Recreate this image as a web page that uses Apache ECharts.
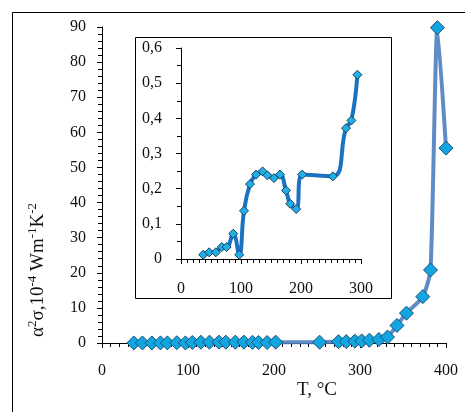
<!DOCTYPE html>
<html>
<head>
    <meta charset="utf-8">
    <title>ECharts</title>
    <script src="https://cdn.jsdelivr.net/npm/echarts@6/dist/echarts.min.js"></script>
    <style>
        body { margin: 0; background: #fff; }
    </style>
</head>
<body>
    <div id="main" style="width: 465px; height:412px;"></div>

    <script type="text/javascript">
        // temperatures (°C) and power factor values (10^-4 W m^-1 K^-2)
        var temps = [37, 47, 58, 68, 76, 87, 97, 105, 115, 125, 136, 144, 155, 165, 175, 182, 192, 202,
                     253, 275, 284, 294, 302, 311, 322, 332, 343, 354, 373, 382, 390, 400];
        // low temperature part (shown in the inset)
        var lowVals = [0.012, 0.019, 0.019, 0.034, 0.034, 0.072, 0.012, 0.137, 0.213, 0.24, 0.249,
                       0.238, 0.23, 0.24, 0.195, 0.157, 0.142, 0.24, 0.235, 0.372, 0.394, 0.524];
        // high temperature part (only in the main chart)
        var highVals = [0.6, 0.8, 1.0, 1.7, 5.0, 8.5, 13.2, 20.8, 89.8, 55.5];

        var mainX = [0, 100, 200, 300, 400];
        var mainY = [0, 10, 20, 30, 40, 50, 60, 70, 80, 90];
        var insetX = [0, 100, 200, 300];
        var insetY = [0, 0.1, 0.2, 0.3, 0.4, 0.5, 0.6];

        var allVals = lowVals.concat(highVals);
        var mainData = temps.map(function (t, i) { return [t, allVals[i]]; });
        var insetData = lowVals.map(function (v, i) { return [temps[i], v]; });

        var serif = 'Liberation Serif';
        var myChart = echarts.init(document.getElementById('main'));

        function majorAxis(grid, min, max, interval, label, extra) {
            var a = {
                gridIndex: grid, type: 'value', min: min, max: max, interval: interval,
                axisLine: { show: true, lineStyle: { color: '#000', width: 1 } },
                axisTick: { show: true, length: 5, lineStyle: { color: '#000' } },
                axisLabel: label,
                splitLine: { show: false }
            };
            for (var k in extra) a[k] = extra[k];
            return a;
        }
        function minorAxis(grid, min, max, interval, extra) {
            var a = {
                gridIndex: grid, type: 'value', min: min, max: max, interval: interval,
                axisLine: { show: false },
                axisTick: { show: true, inside: true, length: 4, lineStyle: { color: '#000' } },
                axisLabel: { show: false },
                splitLine: { show: false }
            };
            for (var k in extra) a[k] = extra[k];
            return a;
        }
        var commaFmt = function (v) { return v === 0 ? '0' : v.toFixed(1).replace('.', ','); };
        function lbl(margin, fmt) {
            return { color: '#111', fontFamily: serif, fontSize: 16, margin: margin, formatter: fmt };
        }

        option = {
            animation: false,
            backgroundColor: '#fff',
            grid: [
                { left: 102, top: 27, width: 344, height: 316 },
                { left: 181, top: 48, width: 180, height: 211, z: 10 }
            ],
            xAxis: [
                majorAxis(0, mainX[0], mainX[mainX.length - 1], 100, lbl(20)),
                minorAxis(0, 0, 400, 10),
                majorAxis(1, insetX[0], insetX[insetX.length - 1], 100, lbl(22), { z: 10 }),
                minorAxis(1, 0, 300, 10, { z: 10 })
            ],
            yAxis: [
                majorAxis(0, mainY[0], mainY[mainY.length - 1], 10, lbl(16)),
                minorAxis(0, 0, 90, 2),
                majorAxis(1, insetY[0], insetY[insetY.length - 1], 0.1, lbl(19, commaFmt), { z: 10 }),
                minorAxis(1, 0, 0.6, 0.05, { z: 10 })
            ],
            graphic: [
                {
                    type: 'rect', z: 0, silent: true,
                    shape: { x: 12.5, y: 12.5, width: 470, height: 420 },
                    style: { fill: 'none', stroke: '#000', lineWidth: 1 }
                },
                {
                    type: 'rect', z: 5, silent: true,
                    shape: { x: 135.5, y: 37.5, width: 256, height: 261 },
                    style: { fill: '#fff', stroke: '#000', lineWidth: 1 }
                },
                {
                    type: 'text', z: 5, x: 37, y: 270, rotation: Math.PI / 2,
                    style: {
                        text: '{a|α}{s|2}{a|σ,10}{s|-4}{a| Wm}{s|-1}{a|K}{s|-2}',
                        align: 'center', verticalAlign: 'middle',
                        fill: '#111', fontFamily: serif, fontSize: 19,
                        rich: {
                            a: { fontFamily: serif, fontSize: 19, lineHeight: 22, verticalAlign: 'bottom' },
                            s: { fontFamily: serif, fontSize: 13, lineHeight: 22, verticalAlign: 'top' }
                        }
                    }
                },
                {
                    type: 'text', z: 5, x: 317, y: 390,
                    style: {
                        text: 'T, °C', align: 'center', verticalAlign: 'middle',
                        fill: '#111', fontFamily: serif, fontSize: 19
                    }
                }
            ],
            series: [
                {
                    name: 'main',
                    type: 'line',
                    xAxisIndex: 0, yAxisIndex: 0,
                    data: mainData,
                    smooth: 0.2,
                    z: 2,
                    lineStyle: { color: '#4f7fbf', width: 4, opacity: 0.9 },
                    symbol: 'diamond',
                    symbolSize: 14,
                    itemStyle: { color: '#12a6e0', borderColor: '#1f4e79', borderWidth: 1 }
                },
                {
                    name: 'inset',
                    type: 'line',
                    xAxisIndex: 2, yAxisIndex: 2,
                    data: insetData,
                    smooth: 0.45,
                    z: 12,
                    lineStyle: { color: '#1a73c2', width: 4 },
                    symbol: 'diamond',
                    symbolSize: 9,
                    itemStyle: { color: '#1fb0e8', borderColor: '#1f3f60', borderWidth: 1 }
                }
            ]
        };

        myChart.setOption(option);
    </script>
</body>
</html>
